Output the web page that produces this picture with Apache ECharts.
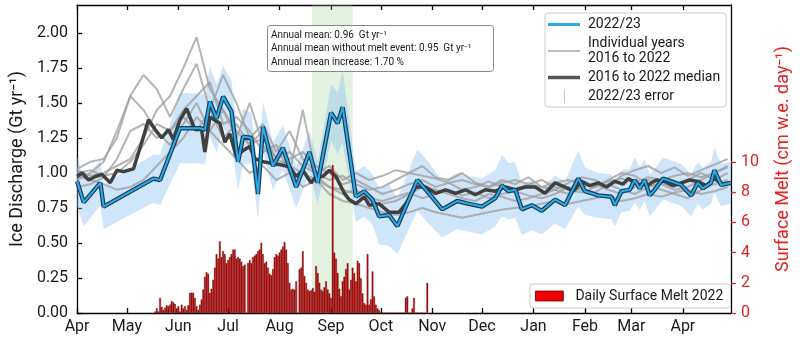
<!DOCTYPE html>
<html><head><meta charset="utf-8">
<script src="https://cdn.jsdelivr.net/npm/echarts@6/dist/echarts.min.js"></script>
<style>html,body{margin:0;padding:0;background:#fff}#c{width:800px;height:341px}</style>
</head><body><div id="c"></div>
<script>
// ---- x axis: days since 1 Apr 2022 ----
const monthDays = [0,30,61,91,122,153,183,214,244,275,306,334,365];
const monthLabels = ['Apr','May','Jun','Jul','Aug','Sep','Oct','Nov','Dec','Jan','Feb','Mar','Apr'];
const leftTicks = [0,0.25,0.5,0.75,1,1.25,1.5,1.75,2];
const rightTicks = [0,2,4,6,8,10];
const meltEventSpan = [141.5, 166];

// ---- 2022/23 ice discharge (Gt/yr) and error ----
const blueDays = [0,4,14,16,46,50,62,74,77,80,84,88,93,97,100,105,109,112,118,124,132,140,145,153,157,160,168,173,178,182,188,193,205,212,220,229,236,244,252,256,260,264,268,274,280,288,294,302,306,314,322,324,328,333,336,339,342,345,348,353,358,364,370,374,377,382,384,388,394];
const blueValues = [0.94,0.79,0.93,0.76,0.96,0.95,
1.32,1.32,1.31,1.51,1.39,1.545,
1.44,1.08,1.26,1.25,0.85,1.33,
1.05,1.18,0.90,1.15,0.93,1.43,
1.355,1.47,0.83,0.87,0.81,0.69,
0.70,0.62,0.95,0.855,0.74,0.80,
0.78,0.76,0.82,0.91,0.87,0.88,
0.74,0.77,0.73,0.81,0.77,0.96,
0.87,0.84,0.83,0.77,0.87,0.88,
0.95,0.89,0.95,0.84,0.88,0.96,
0.94,0.915,0.84,0.93,0.89,0.93,
1.02,0.915,0.93];
const blueErr = [0.18,0.17,0.16,0.16,0.17,0.18,
0.25,0.25,0.25,0.25,0.24,0.22,
0.22,0.2,0.2,0.18,0.18,0.18,
0.17,0.16,0.15,0.15,0.15,0.2,
0.22,0.26,0.18,0.18,0.18,0.2,
0.22,0.2,0.22,0.22,0.2,0.2,
0.2,0.2,0.2,0.22,0.2,0.2,
0.18,0.18,0.17,0.17,0.17,0.2,
0.17,0.16,0.16,0.15,0.15,0.15,
0.16,0.15,0.15,0.15,0.15,0.15,
0.15,0.15,0.15,0.15,0.15,0.15,
0.16,0.15,0.15];

// ---- 2016-2022 median ----
const medDays = [0,3,7,11,15,20,24,28,34,39,43,47,51,55,58,62,66,68,71,75,77,80,86,89,92,96,100,104,107,112,117,122,128,132,136,141,144,148,152,156,161,164,168,173,176,182,188,194,198,204,210,216,222,228,234,240,246,252,258,264,270,276,282,288,294,299,304,309,314,319,324,329,332,338,344,349,354,359,364,369,374,379,384,389,394];
const medValues = [0.975,1.00,0.95,0.975,0.99,0.93,1.02,1.01,1.03,1.22,1.38,1.31,1.25,1.31,1.24,1.38,1.46,1.40,1.31,1.31,1.15,1.40,1.355,1.22,1.28,1.115,1.16,1.19,1.105,1.08,1.07,1.06,1.045,0.975,1.02,0.93,0.975,0.975,1.02,0.975,0.855,0.81,0.78,0.83,0.77,0.78,0.72,0.72,0.78,0.90,0.90,0.855,0.88,0.855,0.88,0.845,0.88,0.87,0.90,0.88,0.90,0.90,0.855,0.93,0.90,0.87,0.94,0.91,0.93,0.90,0.94,0.92,0.96,0.92,0.915,0.95,0.94,0.91,0.93,0.95,0.94,0.91,0.96,0.92,0.93];

// ---- individual years 2016-2022 ----
const yearDays = [0,8,16,24,32,40,48,56,64,72,80,88,96,104,112,120,128,136,144,152,160,168,176,184,192,200,208,216,224,232,240,248,256,264,272,280,288,296,304,312,320,328,336,344,352,360,368,376,384,392];
const yearA = [1.02,0.98,1.00,1.05,1.10,1.25,1.45,1.55,1.75,1.97,1.60,1.45,1.30,1.20,1.30,1.10,1.05,1.00,0.95,0.90,0.88,0.85,0.80,0.78,0.80,0.85,0.90,0.88,0.85,0.82,0.80,0.85,0.83,0.80,0.82,0.85,0.88,0.85,0.90,0.92,0.88,0.85,0.90,0.95,0.92,0.88,0.90,0.95,1.00,1.05];
const yearB = [1.03,1.08,1.10,1.25,1.55,1.70,1.60,1.40,1.60,1.78,1.45,1.70,1.50,1.25,1.35,1.15,1.30,1.10,1.00,1.05,0.95,1.00,0.95,0.98,1.02,1.00,1.05,0.97,0.95,1.00,0.93,0.90,0.95,0.92,0.97,0.90,0.88,0.93,0.97,0.95,0.90,0.98,1.02,1.05,1.00,1.04,0.98,1.02,1.06,1.10];
const yearC = [0.95,1.00,1.08,1.30,1.55,1.45,1.30,1.20,1.35,1.50,1.30,1.20,1.10,1.00,1.05,0.95,1.00,0.90,0.95,0.85,0.80,0.78,0.75,0.72,0.70,0.72,0.75,0.72,0.70,0.68,0.70,0.72,0.74,0.75,0.76,0.78,0.80,0.78,0.80,0.82,0.84,0.80,0.82,0.85,0.83,0.86,0.88,0.85,0.87,0.90];
const yearD = [0.98,0.95,0.92,0.88,0.90,0.95,1.05,1.15,1.25,1.40,1.30,1.45,1.25,1.50,1.20,1.05,1.10,1.15,1.05,1.00,0.92,0.95,0.90,0.85,0.88,0.92,0.95,0.90,0.93,0.88,0.90,0.94,0.90,0.88,0.92,0.95,0.90,0.88,0.86,0.90,0.95,1.00,0.98,0.92,0.88,0.85,0.82,0.88,0.92,0.95];
const yearE = [0.90,0.92,0.97,1.10,1.30,1.35,1.25,1.30,1.45,1.55,1.65,1.35,1.40,1.30,1.15,1.20,1.00,1.45,0.98,0.90,0.85,0.88,0.82,0.80,0.83,0.86,0.82,0.85,0.88,0.84,0.86,0.82,0.85,0.87,0.84,0.82,0.85,0.90,0.88,0.86,0.92,0.88,0.85,0.90,0.93,0.90,0.95,1.00,0.95,1.00];
const yearF = [1.00,1.02,0.98,1.00,1.08,1.20,1.35,1.30,1.40,1.30,1.45,1.25,1.35,1.20,1.25,1.10,1.15,1.05,1.00,0.95,0.98,0.92,0.88,0.90,0.95,1.00,0.98,0.96,0.93,0.95,0.92,0.90,0.93,0.95,0.92,0.90,0.93,0.95,0.92,0.90,0.94,0.96,0.93,0.97,0.95,0.98,1.00,0.97,1.00,1.04];

// ---- daily surface melt 2022 (cm w.e./day), daily from day 47 (18 May) ----
const meltStartDay = 47;
const meltValues = [0.1,0.3,0.1,1.0,0.4,0.2,0.35,0.5,0.45,0.55,
0.78,0.7,0.6,0.3,0.45,0.1,0.55,0.3,0.45,0.2,
0.5,1.33,1.35,1.33,1.0,0.45,0.2,0.55,0.9,1.55,
2.4,2.7,2.6,1.33,1.6,2.2,3.0,3.9,3.6,4.75,
3.7,4.1,3.9,3.3,3.5,3.7,3.9,4.2,4.2,3.6,
3.7,3.6,3.4,3.1,3.2,0,3.3,3.5,3.3,3.7,
3.8,3.9,4.1,4.2,4.65,3.9,3.3,3.4,3.0,2.6,
2.5,2.9,3.7,3.9,3.8,4.0,4.2,4.4,4.7,4.2,
3.3,2.0,1.55,1.6,1.55,2.1,0,2.9,3.0,4.1,
2.45,2.0,1.55,1.45,1.5,1.65,1.4,3.1,2.65,2.0,
1.55,1.45,1.7,2.1,1.55,1.3,1.0,9.8,4.0,3.6,
2.65,1.6,1.1,2.1,2.4,2.9,3.3,1.55,2.2,3.0,
2.65,2.1,3.45,3.3,2.3,1.3,0.65,0.55,3.9,0.55,
0.9,2.75,1.1,0.55,0.3,0.2,0,0,0,0,
0,0,0,0,0,0,0,0,0,0,
0,1.0,1.1,0,0,0.3,1.0,0,0,0,
0,0,0,0,2.0];

const FONT = 'Roboto, "Noto Sans", sans-serif';
const TXT = '#1a1a1a';
const RED = '#e02424';
const pair = (xs, ys) => xs.map((x, i) => [x, ys[i]]);
const lineIcon = h => 'path://M0,0 L0.01,0 L0,0.01Z M0,' + (7 - h/2) + ' L32,' + (7 - h/2) + ' L32,' + (7 + h/2) + ' L0,' + (7 + h/2) + 'Z M32,14 L31.99,14 L32,13.99Z';
const vIcon = 'path://M0,0 L0.01,0 L0,0.01Z M16,0 L17,0 L17,14 L16,14Z M32,14 L31.99,14 L32,13.99Z';
const YEARS = 'Individual years 2016 to 2022';

const bandData = blueDays.map((d, i) => [d, blueValues[i] - blueErr[i], blueValues[i] + blueErr[i]]);

const series = [];
series.push({
  name: '2022/23 error', type: 'custom', silent: true, z: 1, color: '#a6cdf0',
  data: bandData,
  encode: {x: 0, y: [1, 2]},
  renderItem: (params, api) => {
    if (params.dataIndex !== 0) return null;
    const top = bandData.map(r => api.coord([r[0], r[2]]));
    const bot = bandData.map(r => api.coord([r[0], r[1]])).reverse();
    return {type: 'polygon', shape: {points: top.concat(bot)},
      style: {fill: 'rgba(140,192,240,0.42)', stroke: 'none'}};
  },
  markArea: {silent: true, itemStyle: {color: 'rgba(150,205,140,0.27)'},
    data: [[{xAxis: meltEventSpan[0]}, {xAxis: meltEventSpan[1]}]]}
});
[yearA, yearB, yearC, yearD, yearE, yearF].forEach(y => series.push({
  name: YEARS, type: 'line', symbol: 'none', silent: true, z: 2,
  color: '#b4b4b4', data: pair(yearDays, y),
  lineStyle: {width: 2, color: 'rgba(160,160,160,0.78)'}
}));
series.push({
  name: '2016 to 2022 median', type: 'line', symbol: 'none', silent: true, z: 3,
  color: '#444', data: pair(medDays, medValues), lineStyle: {width: 3.5, color: '#404040'}
});
series.push({
  name: 'blueEdge', type: 'line', symbol: 'none', silent: true, z: 4,
  data: pair(blueDays, blueValues), lineStyle: {width: 4.4, color: '#1b3c5e'}
});
series.push({
  name: '2022/23', type: 'line', symbol: 'none', silent: true, z: 5,
  color: '#29a8e2', data: pair(blueDays, blueValues), lineStyle: {width: 2, color: '#2aabe4'}
});
series.push({
  name: 'Daily Surface Melt 2022', type: 'bar', xAxisIndex: 0, yAxisIndex: 1, silent: true, z: 6,
  barWidth: 1.7,
  data: meltValues.map((v, i) => [meltStartDay + i, v]),
  itemStyle: {color: '#bb0b0b', borderColor: '#5a0000', borderWidth: 0.3}
});

const option = {
  animation: false,
  backgroundColor: '#fff',
  grid: {left: 72, right: 68, top: 5, bottom: 28, containLabel: false},
  title: {
    text: 'Annual mean: 0.96  Gt yr\u207B\u00B9\nAnnual mean without melt event: 0.95  Gt yr\u207B\u00B9\nAnnual mean increase: 1.70 %',
    left: 267, top: 25, padding: [4, 22, 3, 4],
    backgroundColor: 'rgba(255,255,255,0.85)', borderColor: '#888', borderWidth: 1, borderRadius: 3,
    textStyle: {fontFamily: FONT, fontSize: 10, fontWeight: 'normal', color: TXT, lineHeight: 13.3}
  },
  legend: [{
    orient: 'vertical', left: 545, top: 13, itemWidth: 32, itemHeight: 14, itemGap: 4,
    padding: [4, 6, 3, 3], selectedMode: false,
    backgroundColor: 'rgba(255,255,255,0.85)', borderColor: '#cccccc', borderWidth: 1, borderRadius: 3,
    textStyle: {fontFamily: FONT, fontSize: 14, color: TXT, lineHeight: 15, padding: [0, 0, 0, 3]},
    formatter: n => n === YEARS ? 'Individual years\n2016 to 2022' : n,
    data: [
      {name: '2022/23', icon: lineIcon(2.8), itemStyle: {color: '#29a8e2'}},
      {name: YEARS, icon: lineIcon(2), itemStyle: {color: '#bdbdbd'}},
      {name: '2016 to 2022 median', icon: lineIcon(3.6), itemStyle: {color: '#555'}},
      {name: '2022/23 error', icon: vIcon, itemStyle: {color: '#a6cdf0'}}
    ]
  }, {
    left: 530, top: 284, itemWidth: 28, itemHeight: 10, padding: [5, 7, 5, 5], selectedMode: false,
    backgroundColor: 'rgba(255,255,255,0.85)', borderColor: '#cccccc', borderWidth: 1, borderRadius: 3,
    textStyle: {fontFamily: FONT, fontSize: 14, color: TXT, padding: [0, 0, 0, 7]},
    data: [{name: 'Daily Surface Melt 2022', icon: 'rect', itemStyle: {color: '#ee0000', borderColor: '#7a0000', borderWidth: 0.8}}]
  }],
  xAxis: [{
    type: 'value', min: 0, max: 394, position: 'bottom',
    axisLine: {show: true, onZero: false, lineStyle: {color: '#000', width: 1.3}},
    axisTick: {show: true, inside: true, length: 5, customValues: monthDays, lineStyle: {color: '#000', width: 1.3}},
    axisLabel: {customValues: monthDays, formatter: v => monthLabels[monthDays.indexOf(v)],
      fontFamily: FONT, fontSize: 16, color: TXT, margin: 6},
    splitLine: {show: false}
  }, {
    type: 'value', min: 0, max: 394, position: 'top',
    axisLine: {show: true, onZero: false, lineStyle: {color: '#000', width: 1.3}},
    axisTick: {show: true, inside: true, length: 5, customValues: monthDays, lineStyle: {color: '#000', width: 1.3}},
    axisLabel: {show: false},
    splitLine: {show: false}
  }],
  yAxis: [{
    type: 'value', min: 0, max: 2.2, position: 'left',
    name: 'Ice Discharge (Gt yr\u207B\u00B9)', nameLocation: 'middle', nameGap: 46,
    nameTextStyle: {fontFamily: FONT, fontSize: 18, color: TXT},
    axisLine: {show: true, onZero: false, lineStyle: {color: '#000', width: 1.3}},
    axisTick: {show: true, inside: true, length: 5, customValues: leftTicks, lineStyle: {color: '#000', width: 1.3}},
    axisLabel: {customValues: leftTicks, formatter: v => v.toFixed(2), fontFamily: FONT, fontSize: 16, color: TXT, margin: 9},
    splitLine: {show: false}
  }, {
    type: 'value', min: 0, max: 20.4, position: 'right',
    name: 'Surface Melt (cm w.e. day\u207B\u00B9)', nameLocation: 'middle', nameGap: 43,
    nameTextStyle: {fontFamily: FONT, fontSize: 18, color: RED},
    axisLine: {show: true, onZero: false, lineStyle: {color: '#000', width: 1.3}},
    axisTick: {show: true, inside: false, length: 5, customValues: rightTicks, lineStyle: {color: RED, width: 1.3}},
    axisLabel: {customValues: rightTicks, fontFamily: FONT, fontSize: 16, color: RED, margin: 10},
    splitLine: {show: false}
  }],
  series: series
};
const chart = echarts.init(document.getElementById('c'));
chart.setOption(option);
</script>
</body></html>
